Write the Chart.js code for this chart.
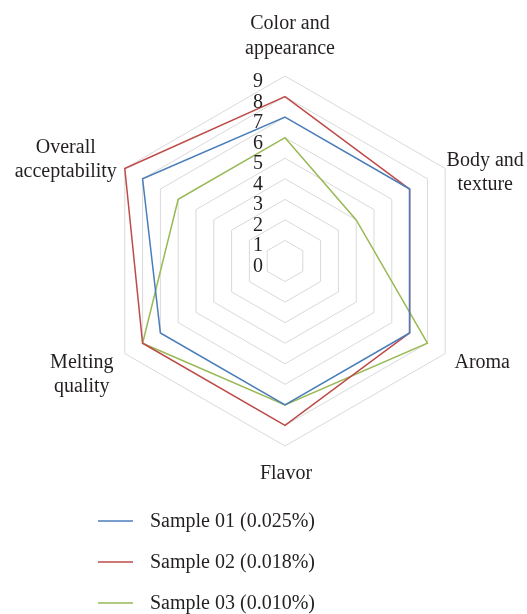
<!DOCTYPE html>
<html>
<head>
<meta charset="utf-8">
<script src="https://cdn.jsdelivr.net/npm/chart.js@4/dist/chart.umd.min.js"></script>
<style>
    body { margin: 0; background: #fff; }
    #wrap { width: 527px; height: 614px; }
</style>
</head>
<body>
<div id="wrap"><canvas id="radarChart" width="527" height="614"></canvas></div>
<script>
    // data
    var categories = [
        ['Color and', 'appearance'],
        ['Body and', 'texture'],
        ['Aroma'],
        ['Flavor'],
        ['Melting', 'quality'],
        ['Overall', 'acceptability']
    ];
    var seriesNames = ['Sample 01 (0.025%)', 'Sample 02 (0.018%)', 'Sample 03 (0.010%)'];
    var sample01 = [7, 7, 7, 7, 7, 8];
    var sample02 = [8, 7, 7, 8, 8, 9];
    var sample03 = [6, 4, 8, 7, 8, 6];
    var tickValues = [0, 1, 2, 3, 4, 5, 6, 7, 8, 9];

    var lineColors = ['#4a7ebb', '#be4b48', '#98b954'];
    var textColor = '#231f20';
    var fontStr = '20px "Liberation Serif", "DejaVu Serif", serif';
    // block centre offset of each axis label from its outer vertex
    var labelOffsets = [[5, -47], [40, -3], [37, 14], [1, 33], [-43, 14], [-59, -16]];

    //------------------------------- text plugin -----------------------------
    var radarText = {
        id: 'radarText',
        afterDraw: function (chart) {
            var ctx = chart.ctx;
            var scale = chart.scales.r;
            ctx.save();
            ctx.font = fontStr;
            ctx.fillStyle = textColor;

            // tick numbers, left of the vertical axis
            ctx.textAlign = 'right';
            ctx.textBaseline = 'alphabetic';
            for (var i = 0; i < tickValues.length; i++) {
                var y = scale.yCenter - scale.getDistanceFromCenterForValue(tickValues[i]);
                ctx.fillText(String(tickValues[i]), scale.xCenter - 22, y + 11);
            }

            // axis labels
            ctx.textAlign = 'center';
            for (var k = 0; k < chart.data.labels.length; k++) {
                var p = scale.getPointPositionForValue(k, scale.max);
                var lines = chart.data.labels[k];
                for (var j = 0; j < lines.length; j++) {
                    ctx.fillText(lines[j], p.x + labelOffsets[k][0], p.y + labelOffsets[k][1] + j * 24.5);
                }
            }

            // legend
            ctx.textAlign = 'left';
            chart.data.datasets.forEach(function (ds, n) {
                var ly = 521 + n * 41;
                ctx.strokeStyle = ds.borderColor;
                ctx.lineWidth = 1.5;
                ctx.beginPath();
                ctx.moveTo(98, ly);
                ctx.lineTo(133, ly);
                ctx.stroke();
                ctx.fillText(ds.label, 150, ly + 6);
            });
            ctx.restore();
        }
    };

    function makeDataset(name, values, color) {
        return {
            label: name,
            data: values,
            borderColor: color,
            backgroundColor: color,
            borderWidth: 1.5,
            fill: false,
            pointRadius: 0,
            pointHoverRadius: 0,
            tension: 0
        };
    }

    var ctxRadar = document.getElementById('radarChart').getContext('2d');
    var chartRadar = new Chart(ctxRadar, {
        type: 'radar',
        data: {
            labels: categories,
            datasets: [
                makeDataset(seriesNames[0], sample01, lineColors[0]),
                makeDataset(seriesNames[1], sample02, lineColors[1]),
                makeDataset(seriesNames[2], sample03, lineColors[2])
            ]
        },
        options: {
            responsive: false,
            animation: false,
            devicePixelRatio: 1,
            layout: {
                padding: { left: 100, right: 57, top: 76, bottom: 168 }
            },
            plugins: {
                legend: { display: false },
                tooltip: { enabled: false }
            },
            scales: {
                r: {
                    min: 0,
                    max: 9,
                    ticks: { stepSize: 1, display: false },
                    grid: { color: '#d9d9d9', lineWidth: 1 },
                    angleLines: { display: false },
                    pointLabels: { display: false }
                }
            }
        },
        plugins: [radarText]
    });
</script>
</body>
</html>
